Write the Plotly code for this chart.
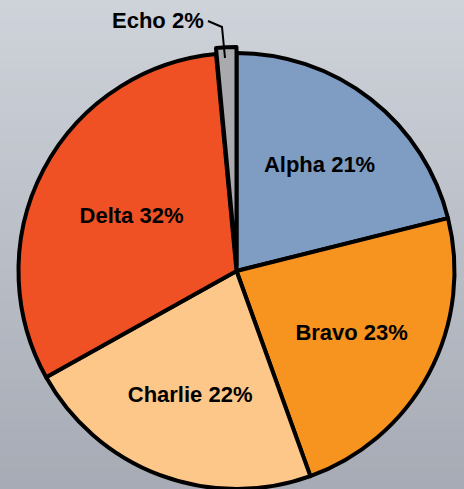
import plotly.graph_objects as go

labels = ["Alpha", "Bravo", "Charlie", "Delta", "Echo"]
values = [21.1, 23.4, 22.4, 31.6, 1.5]
colors = ["#7f9cc3", "#f7931f", "#fdc78a", "#f05124", "#a8aaad"]

W, H = 464, 489
R = 218
CX, CY = 236.5, 271
PULL_PX = 6
LINE_W = 4

def px_x(x):
    return x / W

def px_y(y):
    return 1 - y / H

n = len(labels)
pulled = n - 1  # Echo

base_colors = [c if i != pulled else "rgba(0,0,0,0)" for i, c in enumerate(colors)]
base_lw = [LINE_W if i != pulled else 0 for i in range(n)]
base_tt = ["%{label} %{percent:.0%}" if i != pulled else "" for i in range(n)]

top_colors = [colors[i] if i == pulled else "rgba(0,0,0,0)" for i in range(n)]
top_lw = [LINE_W if i == pulled else 0 for i in range(n)]

font_family = "Liberation Sans, Arial, Helvetica, sans-serif"

def clamp(v):
    return max(0.0, min(1.0, v))

fig = go.Figure()
fig.add_trace(go.Pie(
    labels=labels, values=values, sort=False, direction="clockwise", rotation=0,
    marker=dict(colors=base_colors, line=dict(color="black", width=base_lw)),
    texttemplate=base_tt, textposition="inside", insidetextorientation="horizontal",
    insidetextfont=dict(family=font_family, size=22, color="black", weight="bold"),
    domain=dict(x=[px_x(CX - R), px_x(CX + R)], y=[clamp(px_y(CY + R)), clamp(px_y(CY - R))]),
    showlegend=False, hoverinfo="label+percent",
))
fig.add_trace(go.Pie(
    labels=labels, values=values, sort=False, direction="clockwise", rotation=0,
    marker=dict(colors=top_colors, line=dict(color="black", width=top_lw)),
    textinfo="none",
    domain=dict(x=[px_x(CX - R), px_x(CX + R)],
                y=[clamp(px_y(CY - PULL_PX + R)), clamp(px_y(CY - PULL_PX - R))]),
    showlegend=False, hoverinfo="skip",
))

# background gradient bands
top_rgb = (206, 210, 217)
bot_rgb = (166, 171, 181)
bands = 49
shapes = []
for b in range(bands):
    t = b / (bands - 1)
    c = tuple(round(top_rgb[k] + (bot_rgb[k] - top_rgb[k]) * t) for k in range(3))
    shapes.append(dict(type="rect", xref="paper", yref="paper", layer="below",
                       x0=0, x1=1, y0=1 - (b + 1) / bands - 0.002, y1=1 - b / bands,
                       fillcolor="rgb(%d,%d,%d)" % c, line=dict(width=0)))

# leader line for Echo label
pts = [(208, 21), (222, 27), (225, 58)]
path = "M " + " L ".join("%f,%f" % (px_x(x), px_y(y)) for x, y in pts)
shapes.append(dict(type="path", xref="paper", yref="paper", path=path, layer="above",
                   line=dict(color="black", width=2)))

pct = round(values[pulled] / sum(values) * 100)
fig.update_layout(
    width=W, height=H, margin=dict(l=0, r=0, t=0, b=0),
    paper_bgcolor="rgb(186,190,199)", plot_bgcolor="rgba(0,0,0,0)",
    shapes=shapes,
    annotations=[dict(text="%s %d%%" % (labels[pulled], pct), xref="paper", yref="paper",
                      x=px_x(158), y=px_y(21), xanchor="center", yanchor="middle",
                      showarrow=False,
                      font=dict(family=font_family, size=22, color="black", weight="bold"))],
)

fig.write_html(
    "out.html",
    config={"displayModeBar": False},
    post_script="document.body.style.margin='0';document.body.style.overflow='hidden';",
)
